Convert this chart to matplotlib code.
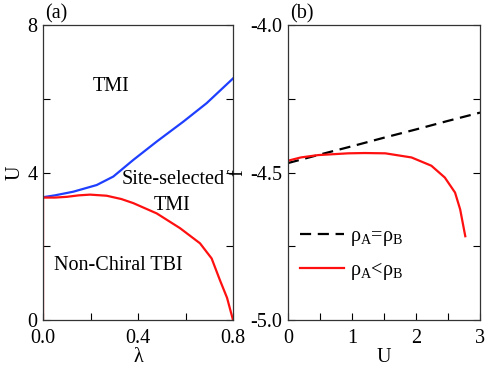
import numpy as np
import matplotlib
matplotlib.use('Agg')
import matplotlib.pyplot as plt
import matplotlib as mpl
from matplotlib.ticker import MultipleLocator

mpl.rcParams['font.family'] = ['Liberation Serif', 'DejaVu Serif']
mpl.rcParams['mathtext.fontset'] = 'custom'
mpl.rcParams['mathtext.rm'] = 'Liberation Serif'
mpl.rcParams['mathtext.it'] = 'Liberation Serif:italic'
mpl.rcParams['axes.unicode_minus'] = False

# panel (a): phase boundaries
lam_blue = [0.0, 0.05, 0.128, 0.226, 0.296, 0.38, 0.479, 0.591, 0.689, 0.80]
U_blue = [3.33, 3.38, 3.48, 3.66, 3.89, 4.34, 4.84, 5.38, 5.88, 6.55]
lam_red = [0.0, 0.0, 0.05, 0.1, 0.15, 0.198, 0.268, 0.33, 0.38, 0.479, 0.577, 0.661, 0.71, 0.745, 0.775, 0.80]
U_red = [0.0, 3.32, 3.32, 3.34, 3.38, 3.40, 3.37, 3.28, 3.17, 2.89, 2.49, 2.08, 1.67, 1.08, 0.6, 0.0]

# panel (b): free energy
U_eq = [0.0, 0.5, 1.0, 1.5, 2.0, 2.5, 3.0]
f_eq = [-4.468, -4.439, -4.411, -4.382, -4.354, -4.325, -4.297]
U_neq = [0.0, 0.2, 0.47, 0.94, 1.2, 1.52, 1.93, 2.24, 2.45, 2.61, 2.69, 2.77]
f_neq = [-4.460, -4.449, -4.441, -4.435, -4.434, -4.435, -4.449, -4.477, -4.517, -4.568, -4.625, -4.716]

fig = plt.figure(figsize=(4.87, 3.67), dpi=100)
fs = 14.5

def style(ax):
    ax.tick_params(which='both', direction='in', right=True, top=False,
                   labelsize=fs, length=5, width=0.8, pad=4)
    ax.tick_params(axis='x', which='both', pad=6.5)
    for s in ax.spines.values():
        s.set_linewidth(0.9)
        s.set_color('#333333')

ax1 = fig.add_axes([43/487, 47/367, 190/487, 295/367])
ax1.plot(lam_blue, U_blue, color='#1f3fff', lw=1.6)
ax1.plot(lam_red, U_red, color='#ff1010', lw=1.6)
ax1.set_xlim(0, 0.8)
ax1.set_ylim(0, 8)
ax1.xaxis.set_major_locator(MultipleLocator(0.4))
ax1.xaxis.set_minor_locator(MultipleLocator(0.2))
ax1.yaxis.set_major_locator(MultipleLocator(4))
ax1.yaxis.set_minor_locator(MultipleLocator(2))
ax1.xaxis.set_major_formatter(mpl.ticker.FormatStrFormatter('%.1f'))
style(ax1)
ax1.set_xlabel('λ', fontsize=fs, labelpad=0)
ax1.set_ylabel('U', fontsize=fs, labelpad=2)
ax1.text(0.288, 6.33, 'TMI', fontsize=fs, ha='center', va='center')
ax1.text(0.549, 3.80, 'Site-selected', fontsize=fs, ha='center', va='center')
ax1.text(0.545, 3.10, 'TMI', fontsize=fs, ha='center', va='center')
ax1.text(0.316, 1.49, 'Non-Chiral TBI', fontsize=fs, ha='center', va='center')
ax1.text(0.01, 1.005, '(a)', fontsize=fs, transform=ax1.transAxes, va='bottom')

ax2 = fig.add_axes([288/487, 47/367, 192/487, 295/367])
ax2.plot(U_eq, f_eq, color='black', lw=1.6, ls=(0, (5, 3)),
         label='ρ$_\\mathregular{A}$=ρ$_\\mathregular{B}$')
ax2.plot(U_neq, f_neq, color='#ff1010', lw=1.6,
         label='ρ$_\\mathregular{A}$<ρ$_\\mathregular{B}$')
ax2.set_xlim(0, 3)
ax2.set_ylim(-5.0, -4.0)
ax2.xaxis.set_major_locator(MultipleLocator(1))
ax2.xaxis.set_minor_locator(MultipleLocator(0.5))
ax2.yaxis.set_major_locator(MultipleLocator(0.5))
ax2.yaxis.set_minor_locator(MultipleLocator(0.25))
ax2.yaxis.set_major_formatter(mpl.ticker.FormatStrFormatter('%.1f'))
style(ax2)
ax2.set_xlabel('U', fontsize=fs, labelpad=0)
ax2.set_ylabel('f', fontsize=fs, labelpad=2)
ax2.legend(loc='lower left', bbox_to_anchor=(0.0, 0.087), frameon=False,
           fontsize=fs, handlelength=2.2, handletextpad=0.3, labelspacing=0.6,
           borderaxespad=0.2)
ax2.text(0.01, 1.005, '(b)', fontsize=fs, transform=ax2.transAxes, va='bottom')

fig.savefig('out.png', dpi=100)
